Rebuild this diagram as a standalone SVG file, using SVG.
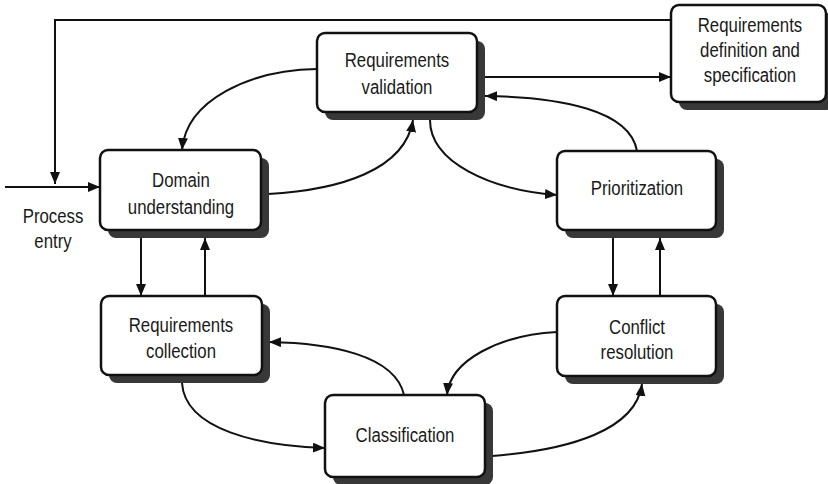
<svg xmlns="http://www.w3.org/2000/svg" width="828" height="484" viewBox="0 0 828 484">
  <defs>
    <marker id="arrow" markerUnits="userSpaceOnUse" markerWidth="13" markerHeight="11" refX="12" refY="5" orient="auto">
      <path d="M0,0 L12,5 L0,10 Z" fill="#111"/>
    </marker>
    <style>
      .box { fill: #fff; stroke: #111; stroke-width: 2.5; }
      .shadow { fill: #383838; }
      .lbl { font-family: "Liberation Sans", Arial, sans-serif; font-size: 21px; fill: #1a1a1a; text-anchor: middle; }
      .link { fill: none; stroke: #111; stroke-width: 2; marker-end: url(#arrow); }
    </style>
  </defs>

  <rect width="828" height="484" fill="#fff"/>

  <!-- connectors -->
  <g id="connectors">
    <!-- feedback loop from the specification back to the entry -->
    <polyline class="link" points="671,20 55,20 55,184"/>
    <!-- process entry -->
    <line class="link" x1="5" y1="187" x2="100" y2="187"/>
    <!-- validation to specification -->
    <line class="link" x1="485" y1="77" x2="671" y2="77"/>
    <!-- validation to domain understanding -->
    <path class="link" d="M317,69 C250,70 186,100 182,150"/>
    <!-- domain understanding to validation -->
    <path class="link" d="M268,194 C340,190 405,170 413,120"/>
    <!-- validation to prioritization -->
    <path class="link" d="M430,120 C430,162 490,190 557,195"/>
    <!-- prioritization to validation -->
    <path class="link" d="M637,151 C630,110 560,97 485,96"/>
    <!-- prioritization / conflict resolution -->
    <line class="link" x1="613" y1="238" x2="613" y2="296"/>
    <line class="link" x1="660" y1="296" x2="660" y2="238"/>
    <!-- conflict resolution to classification -->
    <path class="link" d="M557,332 C500,335 450,360 447,395"/>
    <!-- classification to conflict resolution -->
    <path class="link" d="M492,456 C570,450 636,430 642,384"/>
    <!-- classification to requirements collection -->
    <path class="link" d="M404,395 C395,355 330,343 269,342"/>
    <!-- requirements collection to classification -->
    <path class="link" d="M182,383 C185,430 260,446 325,448"/>
    <!-- domain understanding / requirements collection -->
    <line class="link" x1="141" y1="238" x2="141" y2="296"/>
    <line class="link" x1="205" y1="296" x2="205" y2="238"/>
  </g>

  <!-- nodes -->
  <g id="req-validation">
    <rect class="shadow" x="325" y="41" width="160" height="79" rx="8"/>
    <rect class="box" x="317" y="33" width="160" height="79" rx="8"/>
    <text class="lbl" transform="translate(397,67) scale(0.8,1)">Requirements</text>
    <text class="lbl" transform="translate(397,94) scale(0.8,1)">validation</text>
  </g>

  <g id="req-definition">
    <rect class="shadow" x="679" y="13" width="155" height="97" rx="8"/>
    <rect class="box" x="671" y="5" width="155" height="97" rx="8"/>
    <text class="lbl" transform="translate(750,32) scale(0.8,1)">Requirements</text>
    <text class="lbl" transform="translate(750,57) scale(0.8,1)">definition and</text>
    <text class="lbl" transform="translate(750,82) scale(0.8,1)">specification</text>
  </g>

  <g id="domain-understanding">
    <rect class="shadow" x="108" y="158" width="161" height="80" rx="8"/>
    <rect class="box" x="100" y="150" width="161" height="80" rx="8"/>
    <text class="lbl" transform="translate(181,187) scale(0.8,1)">Domain</text>
    <text class="lbl" transform="translate(181,214) scale(0.8,1)">understanding</text>
  </g>

  <g id="prioritization">
    <rect class="shadow" x="565" y="159" width="159" height="79" rx="8"/>
    <rect class="box" x="557" y="151" width="159" height="79" rx="8"/>
    <text class="lbl" transform="translate(637,195) scale(0.8,1)">Prioritization</text>
  </g>

  <g id="req-collection">
    <rect class="shadow" x="109" y="304" width="161" height="79" rx="8"/>
    <rect class="box" x="101" y="296" width="161" height="79" rx="8"/>
    <text class="lbl" transform="translate(181,332) scale(0.8,1)">Requirements</text>
    <text class="lbl" transform="translate(181,358) scale(0.8,1)">collection</text>
  </g>

  <g id="classification">
    <rect class="shadow" x="333" y="403" width="160" height="82" rx="8"/>
    <rect class="box" x="325" y="395" width="160" height="82" rx="8"/>
    <text class="lbl" transform="translate(405,442) scale(0.8,1)">Classification</text>
  </g>

  <g id="conflict-resolution">
    <rect class="shadow" x="565" y="304" width="159" height="80" rx="8"/>
    <rect class="box" x="557" y="296" width="159" height="80" rx="8"/>
    <text class="lbl" transform="translate(637,334) scale(0.8,1)">Conflict</text>
    <text class="lbl" transform="translate(637,359) scale(0.8,1)">resolution</text>
  </g>

  <g id="process-entry">
    <text class="lbl" transform="translate(53,223) scale(0.8,1)">Process</text>
    <text class="lbl" transform="translate(53,248) scale(0.8,1)">entry</text>
  </g>
</svg>
